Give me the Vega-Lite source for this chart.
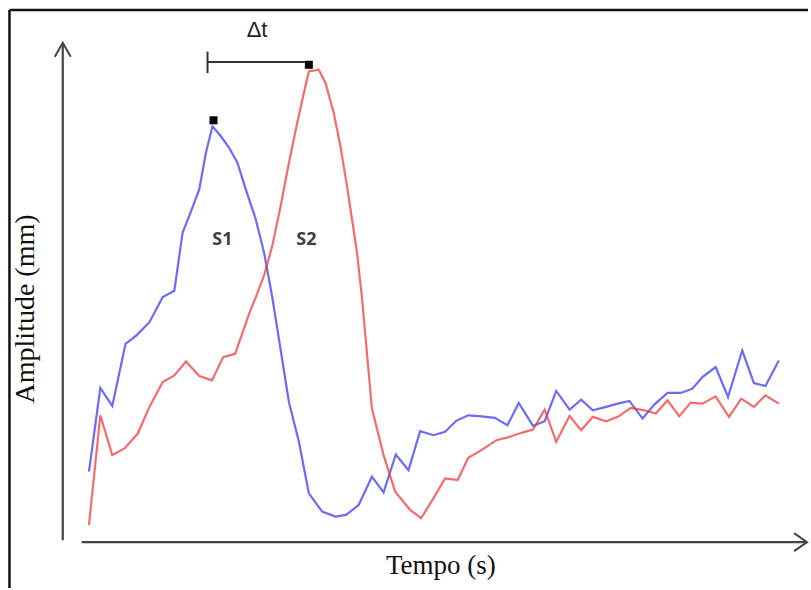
{
  "$schema": "https://vega.github.io/schema/vega-lite/v6.json",
  "width": 811,
  "height": 590,
  "autosize": {"type": "fit", "contains": "padding"},
  "padding": 0,
  "background": "white",
  "config": {"view": {"stroke": null}},
  "datasets": {
    "curves": [
      {"t": 26.3, "a": 70.7, "serie": "S1"},
      {"t": 37.7, "a": 154.7, "serie": "S1"},
      {"t": 49.7, "a": 136.7, "serie": "S1"},
      {"t": 63, "a": 199, "serie": "S1"},
      {"t": 73.7, "a": 207.3, "serie": "S1"},
      {"t": 87, "a": 220.7, "serie": "S1"},
      {"t": 100.3, "a": 246, "serie": "S1"},
      {"t": 112, "a": 252.3, "serie": "S1"},
      {"t": 120.3, "a": 310.7, "serie": "S1"},
      {"t": 127, "a": 327.3, "serie": "S1"},
      {"t": 137, "a": 354, "serie": "S1"},
      {"t": 143.7, "a": 390.7, "serie": "S1"},
      {"t": 150.3, "a": 417.3, "serie": "S1"},
      {"t": 158.7, "a": 407.3, "serie": "S1"},
      {"t": 167, "a": 395.7, "serie": "S1"},
      {"t": 175.3, "a": 380.7, "serie": "S1"},
      {"t": 183.7, "a": 354, "serie": "S1"},
      {"t": 193.7, "a": 324, "serie": "S1"},
      {"t": 202, "a": 290.7, "serie": "S1"},
      {"t": 210.3, "a": 245.7, "serie": "S1"},
      {"t": 227, "a": 140.7, "serie": "S1"},
      {"t": 237, "a": 100.7, "serie": "S1"},
      {"t": 247, "a": 49, "serie": "S1"},
      {"t": 260.3, "a": 30.7, "serie": "S1"},
      {"t": 273.7, "a": 25.7, "serie": "S1"},
      {"t": 284.3, "a": 27.3, "serie": "S1"},
      {"t": 297, "a": 37.3, "serie": "S1"},
      {"t": 310.3, "a": 65.7, "serie": "S1"},
      {"t": 322, "a": 50, "serie": "S1"},
      {"t": 334.3, "a": 88, "serie": "S1"},
      {"t": 347, "a": 72.3, "serie": "S1"},
      {"t": 358.7, "a": 111.3, "serie": "S1"},
      {"t": 372, "a": 107.3, "serie": "S1"},
      {"t": 383.7, "a": 110.7, "serie": "S1"},
      {"t": 395.3, "a": 122, "serie": "S1"},
      {"t": 407, "a": 127.3, "serie": "S1"},
      {"t": 420.3, "a": 126.3, "serie": "S1"},
      {"t": 433.7, "a": 124.7, "serie": "S1"},
      {"t": 446.3, "a": 117.3, "serie": "S1"},
      {"t": 457.7, "a": 139.7, "serie": "S1"},
      {"t": 472, "a": 116.7, "serie": "S1"},
      {"t": 483.7, "a": 121.3, "serie": "S1"},
      {"t": 495.3, "a": 151.7, "serie": "S1"},
      {"t": 508.7, "a": 133, "serie": "S1"},
      {"t": 520.3, "a": 143, "serie": "S1"},
      {"t": 532, "a": 132.3, "serie": "S1"},
      {"t": 545.3, "a": 135.7, "serie": "S1"},
      {"t": 557, "a": 139, "serie": "S1"},
      {"t": 568.7, "a": 141.7, "serie": "S1"},
      {"t": 582, "a": 124, "serie": "S1"},
      {"t": 593.7, "a": 138, "serie": "S1"},
      {"t": 607, "a": 149.7, "serie": "S1"},
      {"t": 620.3, "a": 149.7, "serie": "S1"},
      {"t": 632, "a": 154, "serie": "S1"},
      {"t": 642, "a": 165.7, "serie": "S1"},
      {"t": 655.3, "a": 175.7, "serie": "S1"},
      {"t": 667.7, "a": 145.7, "serie": "S1"},
      {"t": 682, "a": 192.3, "serie": "S1"},
      {"t": 693.7, "a": 159.7, "serie": "S1"},
      {"t": 705.3, "a": 156.7, "serie": "S1"},
      {"t": 718.7, "a": 182.3, "serie": "S1"},
      {"t": 26.3, "a": 17.3, "serie": "S2"},
      {"t": 37.7, "a": 127.3, "serie": "S2"},
      {"t": 49.7, "a": 87.3, "serie": "S2"},
      {"t": 62, "a": 94, "serie": "S2"},
      {"t": 75.3, "a": 109, "serie": "S2"},
      {"t": 87, "a": 135.7, "serie": "S2"},
      {"t": 100.3, "a": 160.7, "serie": "S2"},
      {"t": 112, "a": 167.3, "serie": "S2"},
      {"t": 123.7, "a": 181.3, "serie": "S2"},
      {"t": 137, "a": 166.7, "serie": "S2"},
      {"t": 149.7, "a": 162.3, "serie": "S2"},
      {"t": 161, "a": 185.7, "serie": "S2"},
      {"t": 173, "a": 189, "serie": "S2"},
      {"t": 187, "a": 229, "serie": "S2"},
      {"t": 193.7, "a": 245.7, "serie": "S2"},
      {"t": 202, "a": 267.3, "serie": "S2"},
      {"t": 210.3, "a": 297.3, "serie": "S2"},
      {"t": 218.7, "a": 337.3, "serie": "S2"},
      {"t": 227, "a": 380.7, "serie": "S2"},
      {"t": 235.3, "a": 420.7, "serie": "S2"},
      {"t": 242, "a": 450.7, "serie": "S2"},
      {"t": 247, "a": 472.3, "serie": "S2"},
      {"t": 257, "a": 474, "serie": "S2"},
      {"t": 263.7, "a": 460.7, "serie": "S2"},
      {"t": 272, "a": 430.7, "serie": "S2"},
      {"t": 278.7, "a": 397.3, "serie": "S2"},
      {"t": 285.3, "a": 357.3, "serie": "S2"},
      {"t": 290.3, "a": 324, "serie": "S2"},
      {"t": 295.3, "a": 290.7, "serie": "S2"},
      {"t": 300.3, "a": 245.7, "serie": "S2"},
      {"t": 310.3, "a": 134, "serie": "S2"},
      {"t": 322, "a": 87.3, "serie": "S2"},
      {"t": 333.7, "a": 50.7, "serie": "S2"},
      {"t": 348.7, "a": 32.3, "serie": "S2"},
      {"t": 359.7, "a": 24, "serie": "S2"},
      {"t": 372, "a": 44, "serie": "S2"},
      {"t": 383.7, "a": 64, "serie": "S2"},
      {"t": 396.3, "a": 62.3, "serie": "S2"},
      {"t": 407, "a": 84.7, "serie": "S2"},
      {"t": 420.3, "a": 92.3, "serie": "S2"},
      {"t": 435.3, "a": 102.3, "serie": "S2"},
      {"t": 448.7, "a": 105.7, "serie": "S2"},
      {"t": 460.3, "a": 109.7, "serie": "S2"},
      {"t": 472, "a": 113, "serie": "S2"},
      {"t": 483.7, "a": 133, "serie": "S2"},
      {"t": 495.3, "a": 100.7, "serie": "S2"},
      {"t": 508.7, "a": 126.7, "serie": "S2"},
      {"t": 520.3, "a": 112.3, "serie": "S2"},
      {"t": 532, "a": 125.7, "serie": "S2"},
      {"t": 545.3, "a": 121.3, "serie": "S2"},
      {"t": 557, "a": 125.7, "serie": "S2"},
      {"t": 570.3, "a": 134.7, "serie": "S2"},
      {"t": 583.7, "a": 132.3, "serie": "S2"},
      {"t": 595.3, "a": 129, "serie": "S2"},
      {"t": 607, "a": 142.3, "serie": "S2"},
      {"t": 618.7, "a": 126.3, "serie": "S2"},
      {"t": 630.3, "a": 140, "serie": "S2"},
      {"t": 642, "a": 139, "serie": "S2"},
      {"t": 655.3, "a": 146.3, "serie": "S2"},
      {"t": 668.7, "a": 125.7, "serie": "S2"},
      {"t": 681, "a": 144, "serie": "S2"},
      {"t": 693.7, "a": 135.7, "serie": "S2"},
      {"t": 705.3, "a": 147.3, "serie": "S2"},
      {"t": 718.7, "a": 139, "serie": "S2"}
    ],
    "frame": [
      {"t": -53.5, "a": 534, "t2": 748, "a2": 534},
      {"t": -53.5, "a": 534, "t2": -53.5, "a2": -46}
    ],
    "axes": [
      {"t": 0, "a": 2, "t2": 0, "a2": 501},
      {"t": 19, "a": 0, "t2": 747, "a2": 0}
    ],
    "arrows": [
      {"axe": "x", "ord": 1, "t": 734, "a": 9},
      {"axe": "x", "ord": 2, "t": 747, "a": 0},
      {"axe": "x", "ord": 3, "t": 734, "a": -9},
      {"axe": "y", "ord": 1, "t": -8, "a": 487},
      {"axe": "y", "ord": 2, "t": 0, "a": 501},
      {"axe": "y", "ord": 3, "t": 8, "a": 487}
    ],
    "peaks": [
      {"t": 151.3, "a": 423.3},
      {"t": 247, "a": 479}
    ],
    "bracket": [
      {"t": 145.3, "a": 481.7, "t2": 243.7, "a2": 481.7},
      {"t": 145.3, "a": 470.7, "t2": 145.3, "a2": 492.3}
    ],
    "series_labels": [
      {"t": 160.3, "a": 303, "label": "S1"},
      {"t": 244.5, "a": 303, "label": "S2"}
    ],
    "delta": [{"t": 195, "a": 513.5, "label": "Δt"}],
    "xtitle": [{"t": 379.5, "a": -24, "label": "Tempo (s)"}],
    "ytitle": [{"t": -37, "a": 234, "label": "Amplitude (mm)"}]
  },
  "encoding": {
    "x": {"field": "t", "type": "quantitative", "scale": {"domain": [-63, 748], "nice": false, "zero": false}, "axis": null},
    "y": {"field": "a", "type": "quantitative", "scale": {"domain": [-46, 544], "nice": false, "zero": false}, "axis": null}
  },
  "layer": [
    {
      "data": {"name": "frame"},
      "mark": {"type": "rule", "color": "#111111", "strokeWidth": 2.5},
      "encoding": {"x2": {"field": "t2"}, "y2": {"field": "a2"}}
    },
    {
      "data": {"name": "axes"},
      "mark": {"type": "rule", "color": "#444444", "strokeWidth": 2.2},
      "encoding": {"x2": {"field": "t2"}, "y2": {"field": "a2"}}
    },
    {
      "data": {"name": "arrows"},
      "mark": {"type": "line", "color": "#444444", "strokeWidth": 2, "interpolate": "linear"},
      "encoding": {"detail": {"field": "axe"}, "order": {"field": "ord"}}
    },
    {
      "data": {"name": "curves"},
      "mark": {"type": "line", "strokeWidth": 2.2, "opacity": 0.75},
      "encoding": {
        "color": {"field": "serie", "type": "nominal", "scale": {"domain": ["S1", "S2"], "range": ["#3a3af5", "#f23a3a"]}, "legend": null}
      }
    },
    {
      "data": {"name": "bracket"},
      "mark": {"type": "rule", "color": "#333333", "strokeWidth": 2},
      "encoding": {"x2": {"field": "t2"}, "y2": {"field": "a2"}}
    },
    {
      "data": {"name": "peaks"},
      "mark": {"type": "square", "color": "#000000", "filled": true, "size": 64, "opacity": 1},
      "encoding": {}
    },
    {
      "data": {"name": "series_labels"},
      "mark": {"type": "text", "font": "Open Sans", "fontSize": 18, "fontWeight": "bold", "color": "#404040", "align": "center", "baseline": "middle"},
      "encoding": {"text": {"field": "label"}}
    },
    {
      "data": {"name": "delta"},
      "mark": {"type": "text", "font": "Liberation Sans", "fontSize": 22, "color": "#222222", "align": "center", "baseline": "middle"},
      "encoding": {"text": {"field": "label"}}
    },
    {
      "data": {"name": "xtitle"},
      "mark": {"type": "text", "font": "Liberation Serif", "fontSize": 27, "color": "#111111", "align": "center", "baseline": "middle"},
      "encoding": {"text": {"field": "label"}}
    },
    {
      "data": {"name": "ytitle"},
      "mark": {"type": "text", "font": "Liberation Serif", "fontSize": 28, "color": "#111111", "align": "center", "baseline": "middle", "angle": 270},
      "encoding": {"text": {"field": "label"}}
    }
  ]
}
